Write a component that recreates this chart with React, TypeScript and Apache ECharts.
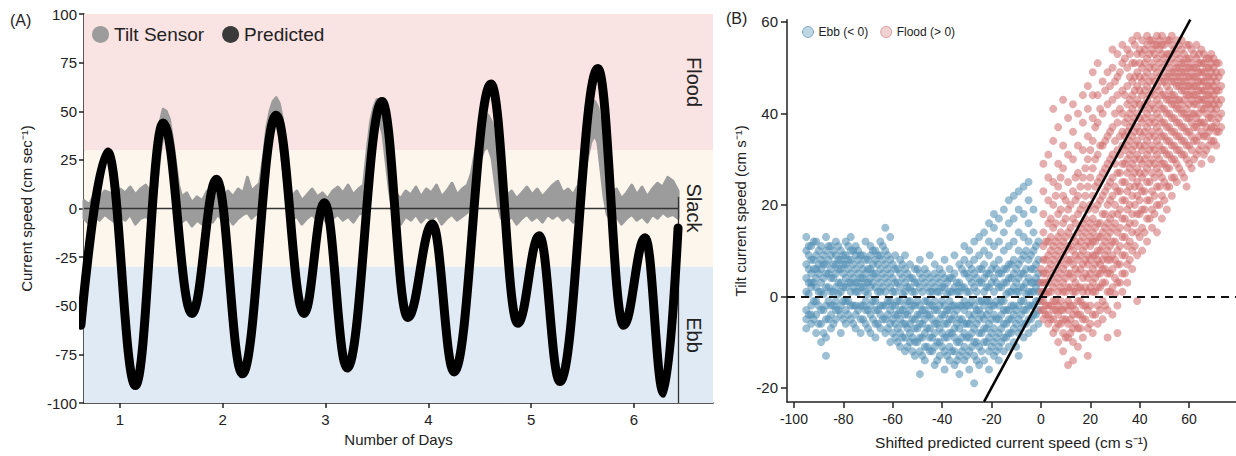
import React, { useEffect, useRef } from 'react';
import * as echarts from 'echarts';

// ---------- Panel A data ----------
const bandNames = ['Flood', 'Slack', 'Ebb'];
const bandBounds: [number, number][] = [[30, 100], [-30, 30], [-100, -30]];
const bandColors = ['#fae3e3', '#fdf6ed', '#dfeaf4'];

const dayTicks = [1, 2, 3, 4, 5, 6];
const dayRange = [0.65, 6.77];
const dayDataEnd = 6.43;

// Predicted current speed: [day, cm/s] at the turning points of the tide curve
const predictedPoints: [number, number][] = [
  [0.62, -60], [0.88, 29], [1.15, -91], [1.42, 44], [1.7, -54], [1.94, 15], [2.19, -85],
  [2.52, 48], [2.79, -54], [2.99, 3], [3.21, -82], [3.55, 55], [3.8, -56], [4.04, -8],
  [4.25, -84], [4.61, 64], [4.87, -59], [5.08, -14], [5.28, -89], [5.65, 72], [5.9, -60],
  [6.11, -15], [6.29, -95], [6.43, -10],
];

// Tilt sensor readings: [day, lowest, highest] of the point cloud
const tiltRanges: [number, number, number][] = [
  [0.65, -5, 4], [0.70, -8, 2], [0.75, -4, 7], [0.80, -6, 5], [0.85, -3, 9], [0.90, -5, 8],
  [0.95, -7, 6], [1.00, -4, 10], [1.05, -6, 8], [1.10, -3, 11], [1.15, -8, 7], [1.20, -5, 10],
  [1.25, -4, 12], [1.30, -6, 8], [1.33, -2, 14], [1.36, 12, 30], [1.39, 28, 44], [1.42, 38, 51],
  [1.45, 40, 50], [1.48, 28, 46], [1.51, 14, 36], [1.54, 4, 24], [1.57, -4, 12], [1.60, -7, 6],
  [1.65, -5, 8], [1.70, -9, 3], [1.75, -6, 6], [1.80, -8, 4], [1.85, -4, 9], [1.90, -7, 7],
  [1.95, -3, 10], [2.00, -6, 5], [2.05, -4, 9], [2.10, -8, 6], [2.15, -5, 10], [2.20, -3, 8],
  [2.24, -2, 16], [2.28, -5, 9], [2.32, -3, 11], [2.36, -2, 13], [2.40, 10, 28], [2.43, 26, 42],
  [2.46, 36, 50], [2.49, 42, 55], [2.52, 44, 57], [2.55, 38, 54], [2.58, 24, 46], [2.61, 10, 32],
  [2.64, -2, 16], [2.67, -6, 6], [2.72, -4, 9], [2.77, -8, 4], [2.82, -5, 7], [2.87, -3, 10],
  [2.92, -6, 6], [2.97, -4, 8], [3.02, -8, 5], [3.07, -5, 9], [3.12, -3, 11], [3.17, -6, 8],
  [3.22, -4, 12], [3.27, -7, 7], [3.32, -3, 10], [3.37, -2, 12], [3.41, 12, 32], [3.44, 28, 45],
  [3.47, 38, 52], [3.50, 42, 56], [3.53, 44, 56], [3.56, 38, 53], [3.59, 24, 44], [3.62, 10, 30],
  [3.65, 0, 16], [3.68, -5, 8], [3.73, -8, 5], [3.78, -4, 9], [3.83, -6, 7], [3.88, -3, 11],
  [3.93, -7, 6], [3.98, -4, 10], [4.03, -6, 8], [4.08, -3, 12], [4.13, -8, 6], [4.18, -5, 9],
  [4.23, -3, 13], [4.28, -6, 7], [4.33, -4, 10], [4.38, -2, 12], [4.42, 2, 18], [4.46, 14, 30],
  [4.50, 24, 40], [4.54, 30, 46], [4.58, 32, 48], [4.62, 26, 44], [4.65, 14, 34], [4.68, 2, 20],
  [4.71, -5, 9], [4.76, -7, 6], [4.81, -4, 9], [4.86, -8, 5], [4.91, -5, 8], [4.96, -3, 11],
  [5.01, -6, 7], [5.06, -4, 10], [5.11, -7, 6], [5.16, -3, 9], [5.21, -5, 12], [5.26, -3, 14],
  [5.31, -6, 8], [5.36, -4, 10], [5.41, -7, 7], [5.46, -2, 12], [5.50, 10, 28], [5.54, 24, 42],
  [5.58, 34, 50], [5.62, 38, 55], [5.65, 34, 52], [5.68, 20, 42], [5.71, 6, 26], [5.74, -3, 12],
  [5.78, -6, 6], [5.83, -4, 10], [5.88, -8, 5], [5.93, -5, 8], [5.98, -3, 12], [6.03, -6, 7],
  [6.08, -4, 11], [6.13, -7, 6], [6.18, -3, 10], [6.23, -5, 13], [6.28, -2, 11], [6.33, -4, 16],
  [6.38, -3, 14], [6.43, -5, 9],
];

// ---------- Panel B data ----------
const shiftedTicks = [-100, -80, -60, -40, -20, 0, 20, 40, 60];
const tiltTicks = [-20, 0, 20, 40, 60];

// [shifted predicted speed, tilt speeds at that x]
const ebbColumns: [number, number[]][] = [
  [-95, [-7, -5, -3, 1, 4, 7, 10, 13]],
  [-94, [-4, 0.5, 3, 6, 9, 11]],
  [-93, [-6, -4, -2, 2, 3, 5, 8, 11]],
  [-92, [-5, -1, 3, 6, 8, 12]],
  [-91, [-8, -4, -1, 2, 4, 6, 9, 12]],
  [-90, [-6, -2, 1, 5, 7, 10]],
  [-89, [-10, -6, -3, 1, 3, 6, 8, 11]],
  [-88, [-8, -3, 0.5, 4, 7, 9]],
  [-87, [-13, -9, -5, -2, 2, 5, 7, 10, 13]],
  [-86, [-5, -1, 2, 5, 8, 11]],
  [-85, [-7, -4, -2, 1, 4, 6, 9, 11]],
  [-84, [-6, -2, 1, 4, 7, 10]],
  [-83, [-5, -3, -1, 2, 5, 7, 9, 12]],
  [-82, [-3, 0.5, 3, 6, 8, 11]],
  [-81, [-8, -4, -2, 1, 3, 6, 8, 10]],
  [-80, [-5, -1, 2, 5, 7, 9]],
  [-79, [-6, -3, -1, 2, 4, 7, 9, 12]],
  [-78, [-4, -1, 3, 6, 8, 11]],
  [-77, [-5, -2, 1, 3, 5, 8, 10, 13]],
  [-76, [-6, -2, 2, 4, 7, 10]],
  [-75, [-7, -4, -2, 1, 3, 6, 9, 11]],
  [-74, [-3, 1, 3, 5, 8, 10]],
  [-73, [-8, -5, -2, 2, 4, 7, 9]],
  [-72, [-5, -2, 2, 4, 6, 9]],
  [-71, [-6, -3, -1, 1, 3, 5, 8, 12]],
  [-70, [-7, -3, 0.5, 3, 6, 8]],
  [-69, [-8, -4, -2, 2, 4, 6, 9, 11]],
  [-68, [-5, -1, 3, 5, 7, 10]],
  [-67, [-9, -6, -3, -1, 2, 5, 8, 10]],
  [-66, [-6, -3, 1, 4, 7, 9]],
  [-65, [-7, -4, -2, 1, 3, 6, 9, 12]],
  [-64, [-5, -2, 2, 5, 8, 11]],
  [-63, [-8, -5, -2, 1, 4, 7, 10, 15]],
  [-62, [-7, -4, -1, 3, 6, 9]],
  [-61, [-10, -6, -3, -1, 2, 5, 8, 13]],
  [-60, [-8, -5, -2, 1, 4, 7]],
  [-59, [-9, -6, -4, -2, 1, 3, 6, 9]],
  [-58, [-10, -7, -4, -1, 3, 6]],
  [-57, [-11, -8, -5, -3, -1, 2, 5, 8]],
  [-56, [-9, -6, -3, 0.5, 4, 7]],
  [-55, [-12, -9, -6, -4, -2, 1, 3, 6, 9]],
  [-54, [-11, -7, -4, -1, 2, 5]],
  [-53, [-10, -8, -6, -3, -1, 2, 4, 7]],
  [-52, [-12, -9, -5, -2, 1, 4]],
  [-51, [-13, -10, -7, -5, -2, 1, 3, 6]],
  [-50, [-10, -7, -4, -1, 3, 6]],
  [-49, [-17, -12, -9, -6, -4, -2, 2, 5, 8]],
  [-48, [-13, -9, -6, -3, 1, 4]],
  [-47, [-14, -11, -8, -5, -3, -1, 3, 6]],
  [-46, [-11, -7, -4, -1, 2, 5]],
  [-45, [-12, -9, -7, -4, -2, 1, 4, 9]],
  [-44, [-12, -9, -5, -2, 1, 3]],
  [-43, [-15, -11, -8, -6, -3, -1, 2, 5, 7]],
  [-42, [-14, -10, -6, -3, 1, 4]],
  [-41, [-13, -10, -7, -5, -2, 1, 3, 6]],
  [-40, [-11, -8, -4, -1, 2, 5]],
  [-39, [-16, -12, -9, -6, -4, -2, 2, 4, 8]],
  [-38, [-13, -9, -6, -3, 0.5, 3]],
  [-37, [-14, -11, -8, -5, -3, -1, 1, 4, 6]],
  [-36, [-12, -8, -5, -2, 1, 4]],
  [-35, [-15, -12, -9, -7, -4, -2, 2, 5, 9]],
  [-34, [-14, -10, -6, -3, 1, 3]],
  [-33, [-17, -13, -10, -7, -5, -2, 1, 3, 7]],
  [-32, [-12, -9, -5, -2, 2, 6]],
  [-31, [-14, -11, -8, -6, -3, -1, 2, 5, 8, 11]],
  [-30, [-13, -9, -6, -2, 1, 5]],
  [-29, [-16, -12, -9, -6, -4, -2, 1, 4, 7, 10]],
  [-28, [-11, -8, -5, -1, 3, 6]],
  [-27, [-19, -13, -10, -7, -4, -2, 2, 5, 8, 12]],
  [-26, [-14, -10, -6, -3, 1, 4]],
  [-25, [-15, -11, -8, -5, -3, -1, 3, 6, 9, 13]],
  [-24, [-12, -8, -4, -1, 3, 6]],
  [-23, [-14, -10, -7, -5, -2, 1, 4, 7, 10, 14]],
  [-22, [-10, -7, -4, -1, 2, 5]],
  [-21, [-16, -12, -9, -6, -3, -1, 2, 5, 9, 12, 16]],
  [-20, [-11, -8, -5, -2, 3, 6]],
  [-19, [-13, -10, -7, -4, -2, 1, 4, 7, 11, 15, 18]],
  [-18, [-12, -9, -5, -1, 3, 6]],
  [-17, [-14, -11, -8, -5, -2, 2, 5, 8, 12, 17]],
  [-16, [-10, -7, -4, -1, 2, 5]],
  [-15, [-12, -9, -6, -3, -1, 3, 6, 10, 14, 19]],
  [-14, [-9, -6, -3, 0.5, 3, 6]],
  [-13, [-11, -8, -5, -3, 1, 4, 7, 11, 16, 21]],
  [-12, [-8, -5, -2, 1, 4, 7]],
  [-11, [-10, -7, -4, -2, 2, 5, 8, 12, 17, 22]],
  [-10, [-11, -6, -3, 1, 3, 6]],
  [-9, [-13, -8, -5, -2, 1, 4, 7, 10, 14, 19, 23]],
  [-8, [-7, -4, -1, 2, 5, 8]],
  [-7, [-9, -6, -3, -1, 2, 5, 9, 13, 18, 24]],
  [-6, [-6, -3, 0.5, 3, 6, 10]],
  [-5, [-8, -5, -2, 1, 4, 8, 12, 16, 21, 25]],
  [-4, [-5, -2, 1, 3, 6, 9]],
  [-3, [-7, -4, -2, 1, 3, 6, 10, 14, 19]],
  [-2, [-4, -1, 2, 4, 7, 11]],
  [-1, [-6, -3, -1, 1, 3, 5, 8, 12]],
];

const floodColumns: [number, number[]][] = [
  [0, [-3, -1, 1, 3, 6]],
  [1, [-5, -3, -1, 1, 3, 5, 8, 11, 14, 18, 23, 29]],
  [2, [-4, -2, 0.5, 3, 5, 8, 12]],
  [3, [-6, -4, -2, 1, 3, 6, 9, 12, 16, 21, 26, 31]],
  [4, [-5, -2, 1, 4, 7, 10, 13, 17]],
  [5, [-8, -5, -3, -1, 2, 5, 8, 11, 15, 20, 25, 34, 41]],
  [6, [-7, -3, -1, 3, 6, 9, 12, 16, 22]],
  [7, [-10, -6, -4, -2, 1, 4, 7, 10, 13, 18, 24, 29, 37]],
  [8, [-6, -3, -1, 2, 5, 8, 11, 14, 19, 26]],
  [9, [-12, -8, -5, -3, 1, 3, 6, 9, 12, 16, 22, 28, 33, 43]],
  [10, [-9, -5, -2, 1, 4, 7, 10, 13, 17, 21]],
  [11, [-15, -9, -6, -3, -1, 2, 5, 8, 11, 14, 19, 25, 31, 39]],
  [12, [-8, -5, -2, 2, 5, 8, 11, 15, 20]],
  [13, [-14, -10, -7, -4, -2, 1, 4, 7, 10, 13, 17, 23, 30, 36, 42]],
  [14, [-6, -3, 1, 3, 6, 9, 12, 16, 21, 26]],
  [15, [-11, -7, -4, -1, 2, 5, 8, 11, 14, 18, 22, 27, 33, 40]],
  [16, [-7, -4, -1, 2, 6, 9, 12, 15, 19, 24]],
  [17, [-9, -5, -2, 1, 4, 7, 10, 13, 16, 20, 26, 32, 38, 44]],
  [18, [-5, -2, 2, 5, 8, 11, 14, 17, 22, 28]],
  [19, [-13, -7, -3, 1, 4, 7, 9, 12, 15, 19, 24, 30, 35, 41, 46]],
  [20, [-6, -2, 2, 5, 8, 11, 13, 16, 20, 26, 32]],
  [21, [-8, -4, 1, 3, 6, 9, 12, 14, 17, 22, 28, 34, 39, 44, 49]],
  [22, [-4, 1, 4, 7, 9, 12, 15, 19, 24, 30, 37]],
  [23, [-6, -2, 2, 5, 8, 10, 13, 16, 20, 25, 31, 38, 44, 51]],
  [24, [-3, 2, 5, 7, 10, 13, 16, 21, 26, 33, 41]],
  [25, [-5, -1, 3, 6, 8, 11, 14, 18, 22, 27, 33, 40, 47]],
  [26, [-2, 3, 6, 9, 12, 15, 18, 23, 28, 34, 45]],
  [27, [-9, -3, 1, 5, 8, 10, 13, 16, 20, 24, 29, 35, 42, 49]],
  [28, [1, 5, 8, 11, 14, 17, 21, 25, 30, 36, 46]],
  [29, [-4, 2, 6, 9, 12, 15, 18, 22, 26, 31, 37, 43, 50, 54]],
  [30, [0.5, 4, 8, 12, 16, 20, 24, 29, 34, 40, 47]],
  [31, [-8, -2, 3, 7, 10, 14, 18, 23, 27, 32, 38, 44, 48, 53]],
  [32, [3, 7, 11, 15, 19, 23, 27, 31, 35, 41, 49]],
  [33, [1, 5, 9, 13, 17, 21, 25, 29, 33, 36, 40, 45, 51, 55]],
  [34, [5, 9, 13, 17, 21, 25, 29, 32, 35, 38, 44, 52]],
  [35, [3, 7, 11, 15, 19, 23, 27, 30, 33, 36, 39, 42, 46, 50, 54]],
  [36, [8, 12, 16, 20, 24, 28, 31, 34, 37, 40, 43, 48, 53]],
  [37, [6, 10, 14, 18, 22, 26, 29, 32, 35, 38, 41, 44, 47, 51, 56]],
  [38, [11, 16, 20, 24, 27, 30, 33, 36, 39, 42, 45, 48, 51, 55]],
  [39, [-1, 9, 14, 18, 22, 25, 28, 31, 34, 37, 40, 43, 46, 49, 53, 57]],
  [40, [13, 18, 21, 24, 27, 30, 33, 36, 39, 42, 45, 48, 51, 54]],
  [41, [10, 15, 19, 23, 26, 29, 32, 35, 38, 41, 44, 47, 50, 53, 56]],
  [42, [14, 19, 23, 27, 30, 33, 36, 39, 42, 45, 48, 51, 54]],
  [43, [12, 17, 21, 25, 28, 31, 34, 37, 40, 43, 46, 49, 52, 55, 57]],
  [44, [17, 21, 25, 29, 32, 35, 38, 41, 44, 47, 50, 53, 56]],
  [45, [15, 19, 23, 27, 30, 33, 36, 39, 42, 45, 48, 51, 54, 56]],
  [46, [18, 22, 26, 29, 32, 35, 38, 41, 44, 47, 50, 53, 55]],
  [47, [14, 20, 24, 28, 31, 34, 37, 40, 43, 46, 49, 52, 55, 57]],
  [48, [20, 24, 27, 30, 33, 36, 39, 42, 45, 48, 51, 54, 56]],
  [49, [17, 22, 26, 29, 32, 35, 38, 41, 44, 47, 50, 53, 55, 57]],
  [50, [21, 25, 29, 32, 35, 38, 41, 44, 47, 49, 52, 55]],
  [51, [19, 24, 28, 31, 34, 37, 40, 43, 46, 48, 51, 53, 56]],
  [52, [24, 28, 31, 34, 37, 40, 43, 45, 48, 50, 53, 56]],
  [53, [22, 26, 30, 33, 36, 39, 42, 44, 47, 49, 52, 55, 57]],
  [54, [26, 30, 33, 36, 39, 42, 44, 47, 49, 51, 54]],
  [55, [25, 29, 32, 35, 38, 41, 43, 46, 48, 50, 53, 56]],
  [56, [28, 32, 35, 38, 41, 43, 46, 48, 50, 52, 55]],
  [57, [27, 31, 34, 37, 40, 42, 45, 47, 49, 51, 54, 56]],
  [58, [26, 31, 34, 37, 40, 43, 45, 47, 49, 51, 53]],
  [59, [24, 30, 33, 36, 39, 41, 44, 46, 48, 50, 52, 55]],
  [60, [29, 33, 36, 39, 42, 44, 46, 48, 50, 52, 55]],
  [61, [28, 32, 35, 38, 40, 43, 45, 47, 49, 51, 54]],
  [62, [30, 34, 37, 40, 42, 44, 46, 48, 50, 53]],
  [63, [31, 34, 37, 39, 42, 44, 46, 48, 50, 52, 55]],
  [64, [32, 35, 38, 40, 43, 45, 47, 49, 51, 53]],
  [65, [29, 33, 36, 38, 41, 43, 45, 47, 49, 51, 54]],
  [66, [31, 35, 38, 41, 43, 45, 47, 49, 51, 53]],
  [67, [32, 35, 37, 40, 42, 44, 46, 48, 50, 52]],
  [68, [33, 36, 39, 42, 44, 46, 48, 50, 52]],
  [69, [30, 34, 37, 39, 41, 43, 45, 47, 49, 51, 53]],
  [70, [34, 37, 40, 42, 44, 46, 48, 50, 52]],
  [71, [33, 36, 38, 41, 43, 45, 47, 49, 51]],
  [72, [36, 39, 42, 45, 48, 51]],
  [73, [37, 40, 43, 46, 49]],
];

const fitSlope = 1;
const fitRange = [-23, 60.5];

const FONT = '"Liberation Sans", Arial, sans-serif';
const INK = '#222';

export default function App() {
  const ref = useRef<HTMLDivElement>(null);

  useEffect(() => {
    if (!ref.current) return;
    const chart = echarts.init(ref.current, null, { renderer: 'svg' });

    const axisLine = { show: true, onZero: false, lineStyle: { color: INK, width: 1.5 } };
    const tickStyle = { color: INK, width: 1.5 };
    const labelStyle = { color: INK, fontSize: 15, fontFamily: FONT };

    const ebbData = ebbColumns.flatMap(([x, ys]) => ys.map((y) => [x, y]));
    const floodData = floodColumns.flatMap(([x, ys]) => ys.map((y) => [x, y]));

    const option: any = {
      animation: false,
      textStyle: { fontFamily: FONT },
      grid: [
        { left: 84, top: 14, width: 629, height: 389 },
        { left: 787, top: 19.7, width: 449, height: 382.3 },
      ],
      legend: [
        {
          left: 87, top: 20, itemWidth: 17, itemHeight: 17, itemGap: 18,
          textStyle: { fontSize: 19, color: INK, fontFamily: FONT },
          data: [
            { name: 'Tilt Sensor', icon: 'circle', itemStyle: { color: '#9c9c9c' } },
            { name: 'Predicted', icon: 'circle', itemStyle: { color: '#3a3a3a' } },
          ],
        },
        {
          left: 797, top: 21, itemWidth: 11, itemHeight: 11, itemGap: 12,
          textStyle: { fontSize: 12, color: INK, fontFamily: FONT },
          data: [
            { name: 'Ebb (< 0)', icon: 'circle', itemStyle: { color: 'rgba(74,138,176,0.65)', borderColor: '#3f7ea3', borderWidth: 1 } },
            { name: 'Flood (> 0)', icon: 'circle', itemStyle: { color: 'rgba(208,106,106,0.55)', borderColor: '#c25e5e', borderWidth: 1 } },
          ],
        },
      ],
      xAxis: [
        {
          type: 'value', gridIndex: 0, min: dayRange[0], max: dayRange[1],
          axisLine,
          axisTick: { show: true, customValues: dayTicks, length: 5, lineStyle: tickStyle },
          axisLabel: { ...labelStyle, customValues: dayTicks, margin: 9 },
          splitLine: { show: false },
          name: 'Number of Days', nameLocation: 'middle', nameGap: 29,
          nameTextStyle: { fontSize: 15, color: INK, fontFamily: FONT },
        },
        {
          type: 'value', gridIndex: 1, min: -102.8, max: 79,
          axisLine,
          axisTick: { show: true, customValues: shiftedTicks, length: 6, lineStyle: tickStyle },
          axisLabel: { ...labelStyle, fontSize: 14, customValues: shiftedTicks, margin: 10 },
          splitLine: { show: false },
          name: 'Shifted predicted current speed (cm s\u207B\u00B9)', nameLocation: 'middle', nameGap: 32,
          nameTextStyle: { fontSize: 15.5, color: INK, fontFamily: FONT },
        },
      ],
      yAxis: [
        {
          type: 'value', gridIndex: 0, min: -100, max: 100, interval: 25,
          axisLine,
          axisTick: { show: true, length: 5, lineStyle: tickStyle },
          axisLabel: { ...labelStyle, margin: 7 },
          splitLine: { show: false },
          name: 'Current speed (cm sec\u207B\u00B9)', nameLocation: 'middle', nameGap: 50,
          nameTextStyle: { fontSize: 15, color: INK, fontFamily: FONT },
        },
        {
          type: 'value', gridIndex: 1, min: -23.1, max: 60.5,
          axisLine,
          axisTick: { show: true, customValues: tiltTicks, length: 6, lineStyle: tickStyle },
          axisLabel: { ...labelStyle, customValues: tiltTicks, margin: 9 },
          splitLine: { show: false },
          name: 'Tilt current speed (cm s\u207B\u00B9)', nameLocation: 'middle', nameGap: 39,
          nameTextStyle: { fontSize: 15, color: INK, fontFamily: FONT },
        },
      ],
      series: [
        {
          name: 'Tilt Sensor',
          type: 'custom',
          xAxisIndex: 0, yAxisIndex: 0,
          z: 2,
          itemStyle: { color: '#9c9c9c' },
          data: [[tiltRanges[0][0], tiltRanges[0][1]]],
          renderItem: (params: any, api: any) => {
            const upper = tiltRanges.map((r) => api.coord([r[0], r[2]]));
            const lower = tiltRanges.slice().reverse().map((r) => api.coord([r[0], r[1]]));
            return {
              type: 'polygon',
              shape: { points: upper.concat(lower) },
              style: { fill: '#9c9c9c', stroke: '#9c9c9c', lineWidth: 3, lineJoin: 'round' },
            };
          },
        },
        {
          name: 'Predicted',
          type: 'line',
          xAxisIndex: 0, yAxisIndex: 0,
          z: 4,
          data: predictedPoints,
          smooth: 0.4,
          smoothMonotone: 'x',
          symbol: 'none',
          itemStyle: { color: '#3a3a3a' },
          lineStyle: { color: '#000', width: 9, cap: 'round' },
          markArea: {
            silent: true,
            z: 1,
            label: { show: false },
            data: bandBounds.map(([lo, hi], i) => [
              { xAxis: dayRange[0], yAxis: lo, itemStyle: { color: bandColors[i], opacity: 1 } },
              { xAxis: dayRange[1], yAxis: hi },
            ]),
          },
          markLine: {
            silent: true,
            z: 3,
            symbol: 'none',
            label: { show: false },
            lineStyle: { color: '#333', width: 1.3, type: 'solid' },
            data: [
              [{ coord: [dayRange[0], 0] }, { coord: [dayDataEnd, 0] }],
              [{ coord: [dayDataEnd, -100] }, { coord: [dayDataEnd, 6] }],
            ],
          },
        },
        {
          name: 'Ebb (< 0)',
          type: 'scatter',
          xAxisIndex: 1, yAxisIndex: 1,
          z: 2,
          symbolSize: 8,
          data: ebbData,
          itemStyle: { color: '#4a8ab0', opacity: 0.55 },
          markLine: {
            silent: true,
            z: 5,
            symbol: 'none',
            label: { show: false },
            lineStyle: { color: '#111', width: 2, type: [8, 6] },
            data: [{ yAxis: 0 }],
          },
        },
        {
          name: 'Flood (> 0)',
          type: 'scatter',
          xAxisIndex: 1, yAxisIndex: 1,
          z: 2,
          symbolSize: 8,
          data: floodData,
          itemStyle: { color: '#d06a6a', opacity: 0.55 },
        },
        {
          name: 'fit',
          type: 'line',
          xAxisIndex: 1, yAxisIndex: 1,
          z: 6,
          symbol: 'none',
          data: fitRange.map((x) => [x, fitSlope * x]),
          lineStyle: { color: '#000', width: 2.5 },
        },
      ],
      graphic: [
        { type: 'text', x: 10, y: 20, z: 100, style: { text: '(A)', fontSize: 16, fill: INK, fontFamily: FONT, verticalAlign: 'middle' } },
        { type: 'text', x: 726, y: 18, z: 100, style: { text: '(B)', fontSize: 16, fill: INK, fontFamily: FONT, verticalAlign: 'middle' } },
        ...bandNames.map((name, i) => ({
          type: 'text',
          x: 694,
          y: [82, 208, 335][i],
          rotation: -Math.PI / 2,
          z: 100,
          style: { text: name, fontSize: 20, fill: INK, fontFamily: FONT, align: 'center', verticalAlign: 'middle' },
        })),
      ],
    };

    chart.setOption(option);
    return () => chart.dispose();
  }, []);

  return (
    <div
      ref={ref}
      style={{ position: 'absolute', left: 0, top: 0, width: 1236, height: 456, background: '#fff' }}
    />
  );
}
